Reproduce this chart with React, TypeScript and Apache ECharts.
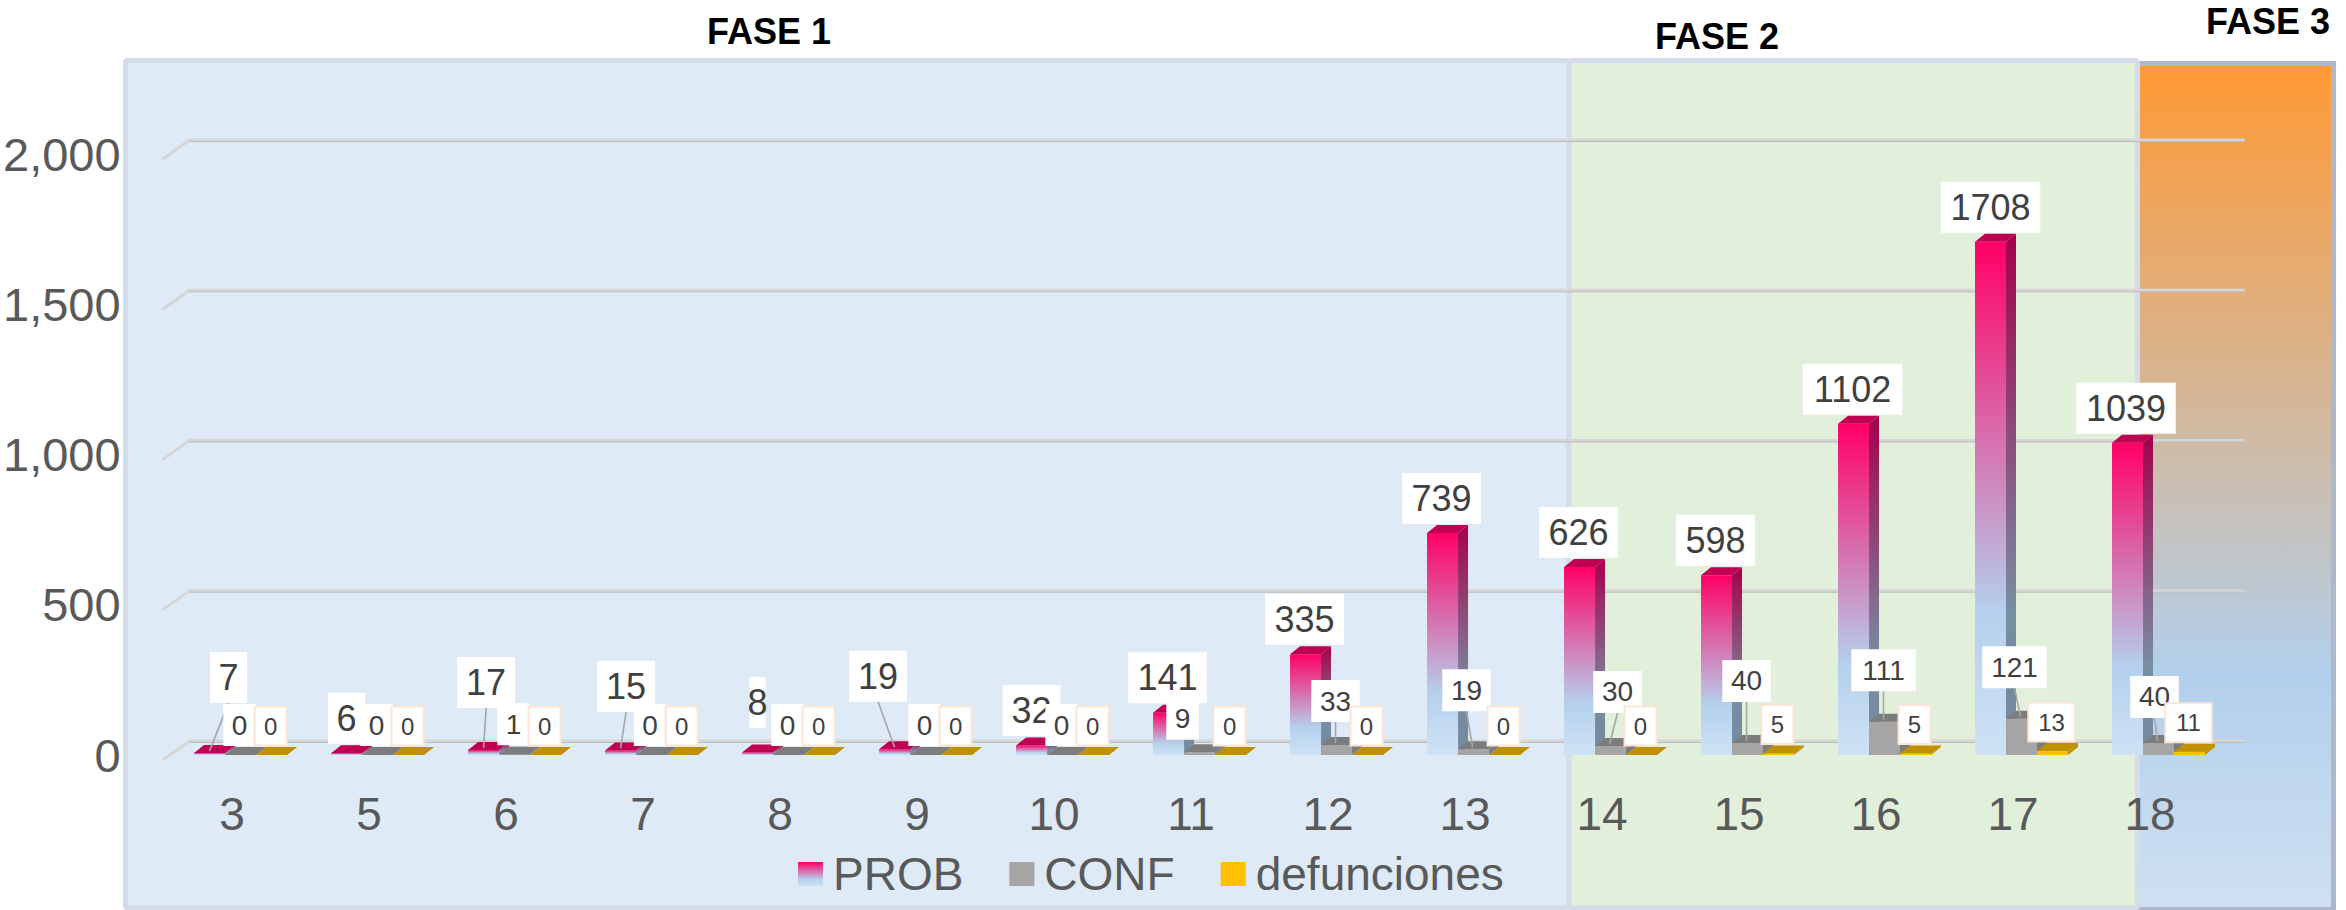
import React, { useEffect, useRef } from "react";
import * as echarts from "echarts";

const categories = ["3", "5", "6", "7", "8", "9", "10", "11", "12", "13", "14", "15", "16", "17", "18"];
const prob = [7, 6, 17, 15, 8, 19, 32, 141, 335, 739, 626, 598, 1102, 1708, 1039];
const conf = [0, 0, 1, 0, 0, 0, 0, 9, 33, 19, 30, 40, 111, 121, 40];
const defunciones = [0, 0, 0, 0, 0, 0, 0, 0, 0, 0, 0, 5, 5, 13, 11];
const yTicks = [0, 500, 1000, 1500, 2000];

// hand-placed data labels: offset of the label centre from the bar's top-front centre
const probLabelDx = [19, 0, 2.5, 5.5, 0, -16.5, 0, -1, -1, -1, -1, -1, -1, 0, -1.5];
const probLabelDy = [-75.5, -35, -67.5, -64, -50, -73, -35, -35, -35, -34.5, -34.5, -35, -34.5, -34.5, -34.5];
const confLabelDx = [-1, -1, -1, -1.5, -1, -1, -1, -17, -1, -7, 7, -1, -1, -7, -4];
const confLabelDy = [-30, -30, -30.5, -30, -30, -30, -30, -33.5, -44, -59, -54, -62, -51.5, -51.5, -46];
const probLeaders = [0, 2, 3, 5];
const confLeaders = [8, 9, 10, 11, 12, 13, 14];
const narrowProbLabels = [4];

const FONT = "Liberation Sans";
const BAR_W = 31;
const DEPTH_X = 10;
const DEPTH_Y = 8;
const GROUP_LEFT = -38;

const grad = (stops: [number, string][]) =>
  new echarts.graphic.LinearGradient(0, 0, 0, 1, stops.map(([offset, color]) => ({ offset, color })));

const probFront = () => grad([[0, "#ff0066"], [0.72, "#b4d0ec"], [1, "#cfe2f5"]]);
const probSide = () => grad([[0, "#a5004b"], [0.72, "#778da3"], [1, "#74899c"]]);

const barStyles = [
  { front: probFront, side: probSide, top: () => "#c00050" },
  { front: () => "#a5a5a5", side: () => "#7c7c7c", top: () => "#7c7c7c" },
  { front: () => "#ffc000", side: () => "#bf9000", top: () => "#bf9000" },
];

const barRender = (s: number) => (_p: any, api: any) => {
  const i = api.value(0);
  const v = api.value(1);
  const c = api.coord([i, v]);
  const base = api.coord([i, 0]);
  const x = base[0] + GROUP_LEFT + s * BAR_W;
  const y = c[1];
  const st = barStyles[s];
  const children: any[] = [];
  if (base[1] - y > 0.5) {
    children.push({
      type: "polygon",
      shape: {
        points: [
          [x + BAR_W, y],
          [x + BAR_W + DEPTH_X, y - DEPTH_Y],
          [x + BAR_W + DEPTH_X, base[1] - DEPTH_Y],
          [x + BAR_W, base[1]],
        ],
      },
      style: { fill: st.side() },
    });
    children.push({
      type: "rect",
      shape: { x, y, width: BAR_W, height: base[1] - y },
      style: { fill: st.front() },
    });
  }
  children.push({
    type: "polygon",
    shape: {
      points: [
        [x, y],
        [x + BAR_W, y],
        [x + BAR_W + DEPTH_X, y - DEPTH_Y],
        [x + DEPTH_X, y - DEPTH_Y],
      ],
    },
    style: { fill: st.top() },
  });
  return { type: "group", children };
};

const labelRender = (s: number) => (_p: any, api: any) => {
  const i = api.value(0);
  const v = api.value(1);
  const c = api.coord([i, v]);
  const bc = c[0] + GROUP_LEFT + s * BAR_W + BAR_W / 2;
  const text = String(v);
  const n = text.length;
  let cx = 0, cy = 0, w = 0, h = 0, fs = 0, border = "none", leader = false, endX = bc;
  if (s === 0) {
    cx = bc + probLabelDx[i];
    cy = c[1] + probLabelDy[i];
    w = narrowProbLabels.includes(i) ? 16 : 16.5 + 20.75 * n;
    h = 51;
    fs = 36;
    leader = probLeaders.includes(i);
  } else if (s === 1) {
    cx = bc + confLabelDx[i];
    cy = c[1] + confLabelDy[i];
    w = 16.5 + 16 * n;
    h = 42;
    fs = 28;
    leader = confLeaders.includes(i);
    endX = bc - 1;
  } else {
    cx = bc - 1;
    cy = c[1] - 29;
    w = 17.5 + 14.5 * n;
    h = 39;
    fs = 24;
    border = "#fbe5d6";
  }
  const children: any[] = [];
  if (leader) {
    children.push({
      type: "line",
      shape: { x1: cx, y1: cy + h / 2, x2: endX, y2: c[1] - 2 },
      style: { stroke: "#a6a6a6", lineWidth: 1.6 },
    });
  }
  children.push({
    type: "rect",
    shape: { x: cx - w / 2, y: cy - h / 2, width: w, height: h },
    style: { fill: "#ffffff", stroke: border, lineWidth: border === "none" ? 0 : 2 },
  });
  children.push({
    type: "text",
    style: {
      x: cx,
      y: cy,
      text,
      fill: "#404040",
      fontSize: fs,
      fontFamily: FONT,
      align: "center",
      verticalAlign: "middle",
    },
  });
  return { type: "group", children };
};

const gridRender = (p: any, api: any) => {
  const y = api.coord([0, api.value(1)])[1];
  const cs = p.coordSys;
  const x0 = cs.x - 1;
  const x1 = cs.x + 26;
  const x2 = cs.x + cs.width + 26;
  return {
    type: "group",
    children: [
      {
        type: "polyline",
        shape: { points: [[x0, y + 5], [x1, y - 14], [x2, y - 14]] },
        style: { stroke: "#d6d6d6", lineWidth: 3, fill: "none" },
      },
      {
        type: "line",
        shape: { x1, y1: y - 12.5, x2, y2: y - 12.5 },
        style: { stroke: "#bdbdbd", lineWidth: 1 },
      },
    ],
  };
};

const pts = (arr: number[]) => arr.map((v, i) => [i, v]);
const fase = (text: string, x: number, y: number) => ({
  type: "text",
  x,
  y,
  z: 10,
  style: {
    text,
    fill: "#000000",
    fontSize: 36,
    fontWeight: "bold",
    fontFamily: FONT,
    align: "center",
    verticalAlign: "middle",
  },
});

export default function App() {
  const ref = useRef<HTMLDivElement>(null);
  useEffect(() => {
    const chart = echarts.init(ref.current!, undefined, { renderer: "svg" });
    const custom = (name: string, data: number[][], renderItem: any, z: number) => ({
      type: "custom",
      name,
      data,
      renderItem,
      z,
      encode: { x: 0, y: 1 },
      silent: true,
    });
    chart.setOption({
      animation: false,
      textStyle: { fontFamily: FONT },
      grid: { left: 163.5, top: 154, width: 2055, height: 601 },
      xAxis: {
        type: "category",
        data: categories,
        axisLine: { show: false },
        axisTick: { show: false },
        axisLabel: { fontSize: 46, color: "#595959", margin: 36, fontFamily: FONT },
      },
      yAxis: {
        type: "value",
        min: 0,
        max: 2000,
        interval: 500,
        axisLine: { show: false },
        axisTick: { show: false },
        splitLine: { show: false },
        axisLabel: { fontSize: 47, color: "#595959", margin: 43, fontFamily: FONT, padding: [7, 0, 0, 0] },
      },
      legend: {
        left: 793,
        top: 846,
        itemWidth: 25,
        itemHeight: 24,
        itemGap: 46,
        selectedMode: false,
        textStyle: { fontSize: 46, color: "#595959", fontFamily: FONT, padding: [0, 0, 0, 5] },
        data: [
          { name: "PROB", icon: "rect", itemStyle: { color: probFront() } },
          { name: "CONF", icon: "rect", itemStyle: { color: "#a5a5a5" } },
          { name: "defunciones", icon: "rect", itemStyle: { color: "#ffc000" } },
        ],
      },
      graphic: [
        {
          type: "rect",
          z: -5,
          shape: { x: 2130, y: 63.5, width: 203.5, height: 846 },
          style: {
            fill: grad([[0, "#ff9933"], [0.72, "#b2cfeb"], [1, "#cfe0f2"]]),
            stroke: "#adb9ca",
            lineWidth: 5,
          },
        },
        {
          type: "rect",
          z: -4,
          shape: { x: 125.5, y: 60.5, width: 1443.5, height: 847.5, r: 2 },
          style: { fill: "#deeaf6", stroke: "#d3dce8", lineWidth: 5 },
        },
        {
          type: "rect",
          z: -3,
          shape: { x: 1569, y: 60.5, width: 568.5, height: 847.5, r: 2 },
          style: { fill: "#e2efda", stroke: "#d3dce8", lineWidth: 5 },
        },
        fase("FASE 1", 769, 31),
        fase("FASE 2", 1717, 36),
        fase("FASE 3", 2268, 21),
      ],
      series: [
        custom("Rejilla", yTicks.map((t) => [0, t]), gridRender, 1),
        custom("PROB", pts(prob), barRender(0), 3),
        custom("CONF", pts(conf), barRender(1), 4),
        custom("defunciones", pts(defunciones), barRender(2), 5),
        custom("PROB valores", pts(prob), labelRender(0), 6),
        custom("CONF valores", pts(conf), labelRender(1), 7),
        custom("defunciones valores", pts(defunciones), labelRender(2), 8),
      ],
    });
    return () => chart.dispose();
  }, []);
  return <div ref={ref} style={{ position: "absolute", left: 0, top: 0, width: 2346, height: 910 }} />;
}
